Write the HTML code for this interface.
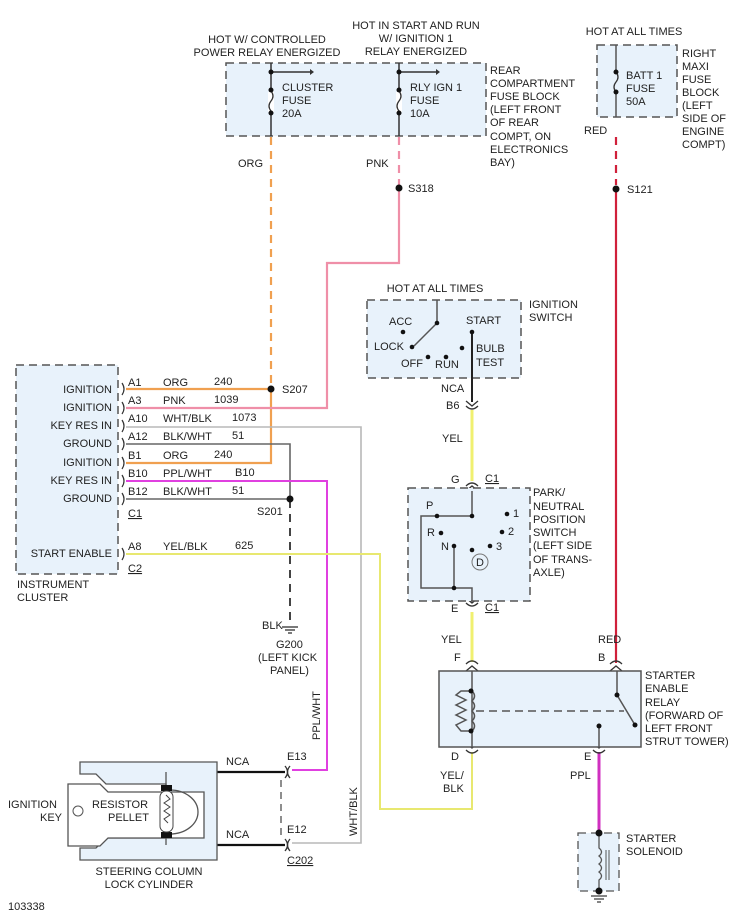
<!DOCTYPE html>
<html><head><meta charset="utf-8"><style>
body{margin:0;background:#fff}
svg{display:block}
text{font-family:"Liberation Sans",Arial,sans-serif;font-size:11px;fill:#222}
.bx{fill:#e8f2fb;stroke:#555;stroke-width:1.5;stroke-dasharray:8,5}
</style></head><body>
<svg width="742" height="916" viewBox="0 0 742 916" xmlns="http://www.w3.org/2000/svg">
<rect x="0" y="0" width="742" height="916" fill="#fff"/>
<text x="267" y="43" text-anchor="middle">HOT W/ CONTROLLED</text>
<text x="267" y="56" text-anchor="middle">POWER RELAY ENERGIZED</text>
<text x="416" y="29" text-anchor="middle">HOT IN START AND RUN</text>
<text x="416" y="42" text-anchor="middle">W/ IGNITION 1</text>
<text x="416" y="55" text-anchor="middle">RELAY ENERGIZED</text>
<rect class="bx" x="226" y="63" width="260" height="73"/>
<g stroke="#333" stroke-width="1.5" fill="none">
<line x1="271" y1="63" x2="271" y2="136"/><line x1="399" y1="63" x2="399" y2="136"/>
<line x1="271" y1="72" x2="310" y2="72"/><line x1="399" y1="72" x2="436" y2="72"/>
</g>
<path d="M310,69 L314,72 L310,75Z M436,69 L440,72 L436,75Z" fill="#333"/>
<g fill="#fff" stroke="none"><rect x="268" y="92" width="6" height="20"/><rect x="396" y="92" width="6" height="20"/></g>
<path d="M271,91 q4,5 0,10 q-4,5 0,10 M399,91 q4,5 0,10 q-4,5 0,10" stroke="#333" fill="none" stroke-width="1.3"/>
<g fill="#111"><circle cx="271" cy="72" r="2.5"/><circle cx="399" cy="72" r="2.5"/><circle cx="271" cy="90" r="2.5"/><circle cx="271" cy="113" r="2.5"/><circle cx="399" cy="90" r="2.5"/><circle cx="399" cy="113" r="2.5"/></g>
<text x="282" y="91">CLUSTER</text><text x="282" y="104">FUSE</text><text x="282" y="117">20A</text>
<text x="410" y="91">RLY IGN 1</text><text x="410" y="104">FUSE</text><text x="410" y="117">10A</text>
<text x="490" y="74">REAR</text><text x="490" y="87">COMPARTMENT</text><text x="490" y="100">FUSE BLOCK</text><text x="490" y="113">(LEFT FRONT</text><text x="490" y="126">OF REAR</text><text x="490" y="140">COMPT, ON</text><text x="490" y="153">ELECTRONICS</text><text x="490" y="166">BAY)</text>
<text x="238" y="167">ORG</text><text x="366" y="167">PNK</text><text x="408" y="192">S318</text>

<text x="634" y="35" text-anchor="middle">HOT AT ALL TIMES</text>
<rect class="bx" x="597" y="45" width="80" height="72"/>
<line x1="616" y1="45" x2="616" y2="117" stroke="#555" stroke-width="1.5"/>
<rect x="613" y="73" width="6" height="18" fill="#e8f2fb"/>
<path d="M616,72 q4,5 0,10 q-4,5 0,10" stroke="#333" fill="none" stroke-width="1.3"/>
<circle cx="616" cy="72" r="2.5" fill="#111"/><circle cx="616" cy="92" r="2.5" fill="#111"/>
<text x="626" y="79">BATT 1</text><text x="626" y="92">FUSE</text><text x="626" y="105">50A</text>
<text x="682" y="57">RIGHT</text><text x="682" y="70">MAXI</text><text x="682" y="83">FUSE</text><text x="682" y="96">BLOCK</text><text x="682" y="109">(LEFT</text><text x="682" y="122">SIDE OF</text><text x="682" y="135">ENGINE</text><text x="682" y="148">COMPT)</text>
<text x="584" y="134">RED</text><text x="627" y="193">S121</text>

<g fill="none" stroke-width="2.2">
<line x1="271" y1="137" x2="271" y2="386" stroke="#f0a050" stroke-dasharray="8,6"/>
<path d="M126,389 H271 V463 H126" stroke="#f0a050"/>
<line x1="399" y1="137" x2="399" y2="185" stroke="#ef8fa8" stroke-dasharray="8,6"/>
<path d="M399,188 V263 H327 V408 H126" stroke="#ef8fa8"/>
<path d="M126,427 H361 V843 H292" stroke="#b8b8b8" stroke-width="1.6"/>
<path d="M126,444 H290 V499 H126" stroke="#666" stroke-width="1.6"/>
<line x1="290" y1="500" x2="290" y2="626" stroke="#444" stroke-dasharray="8,6" stroke-width="2"/>
<path d="M126,481 H327 V770 H292" stroke="#e040e0" stroke-width="2"/>
<path d="M126,554 H380 V809 H472 V752" stroke="#e8e870" stroke-width="2"/>
<line x1="616" y1="137" x2="616" y2="185" stroke="#d0203a" stroke-dasharray="8,6"/>
<path d="M616,189 V663" stroke="#d0203a"/>
<line x1="472" y1="410" x2="472" y2="481" stroke="#f0f070" stroke-width="3"/>
<line x1="472" y1="612" x2="472" y2="662" stroke="#f0f070" stroke-width="3"/>
<line x1="599" y1="752" x2="599" y2="833" stroke="#d030c0" stroke-width="3"/>
<line x1="166" y1="772" x2="285" y2="772" stroke="#111" stroke-width="2.2"/>
<line x1="166" y1="845" x2="285" y2="845" stroke="#111" stroke-width="2.2"/>
<line x1="281" y1="780" x2="281" y2="838" stroke="#444" stroke-width="1.2" stroke-dasharray="7,5"/>
</g>
<g fill="#111"><circle cx="271" cy="389" r="3.5"/><circle cx="399" cy="188" r="3.5"/><circle cx="290" cy="499" r="3.5"/><circle cx="616" cy="189" r="3.5"/></g>
<text x="282" y="393">S207</text><text x="257" y="515">S201</text>

<rect class="bx" x="16" y="365" width="102" height="209"/>
<g text-anchor="end">
<text x="112" y="393">IGNITION</text><text x="112" y="411">IGNITION</text><text x="112" y="429">KEY RES IN</text><text x="112" y="447">GROUND</text><text x="112" y="466">IGNITION</text><text x="112" y="484">KEY RES IN</text><text x="112" y="502">GROUND</text><text x="112" y="557">START ENABLE</text>
</g>
<g fill="none" stroke="#333" stroke-width="1.2">
<path d="M122,383 q4,6 0,12"/><path d="M122,402 q4,6 0,12"/><path d="M122,420 q4,6 0,12"/><path d="M122,438 q4,6 0,12"/><path d="M122,457 q4,6 0,12"/><path d="M122,475 q4,6 0,12"/><path d="M122,493 q4,6 0,12"/><path d="M122,548 q4,6 0,12"/>
</g>
<text x="128" y="386">A1</text><text x="163" y="386">ORG</text><text x="214" y="385">240</text>
<text x="128" y="404">A3</text><text x="163" y="404">PNK</text><text x="214" y="403">1039</text>
<text x="128" y="422">A10</text><text x="163" y="422">WHT/BLK</text><text x="232" y="421">1073</text>
<text x="128" y="440">A12</text><text x="163" y="440">BLK/WHT</text><text x="232" y="439">51</text>
<text x="128" y="459">B1</text><text x="163" y="459">ORG</text><text x="214" y="458">240</text>
<text x="128" y="477">B10</text><text x="163" y="477">PPL/WHT</text><text x="235" y="476">B10</text>
<text x="128" y="495">B12</text><text x="163" y="495">BLK/WHT</text><text x="232" y="494">51</text>
<text x="128" y="517" text-decoration="underline">C1</text>
<text x="128" y="550">A8</text><text x="163" y="550">YEL/BLK</text><text x="235" y="549">625</text>
<text x="128" y="572" text-decoration="underline">C2</text>
<text x="17" y="588">INSTRUMENT</text><text x="17" y="601">CLUSTER</text>
<text x="262" y="629">BLK</text>
<g stroke="#333" stroke-width="1.3"><line x1="282" y1="627" x2="298" y2="627"/><line x1="285" y1="630" x2="295" y2="630"/><line x1="288" y1="633" x2="292" y2="633"/></g>
<text x="276" y="648">G200</text><text x="258" y="661">(LEFT KICK</text><text x="270" y="674">PANEL)</text>
<text transform="translate(320,740) rotate(-90)">PPL/WHT</text>
<text transform="translate(357,836) rotate(-90)">WHT/BLK</text>

<text x="435" y="292" text-anchor="middle">HOT AT ALL TIMES</text>
<rect class="bx" x="367" y="300" width="154" height="78"/>
<g stroke="#555" stroke-width="1.5" fill="none"><path d="M437,300 V323 L414,346"/></g>
<line x1="472" y1="332" x2="472" y2="402" stroke="#222" stroke-width="2"/>
<g fill="#111"><circle cx="437" cy="323" r="2.3"/><circle cx="403" cy="332" r="2.3"/><circle cx="412" cy="347" r="2.3"/><circle cx="428" cy="357" r="2.3"/><circle cx="446" cy="357" r="2.3"/><circle cx="462" cy="348" r="2.3"/><circle cx="472" cy="332" r="2.3"/></g>
<text x="389" y="325">ACC</text><text x="374" y="350">LOCK</text><text x="401" y="367">OFF</text><text x="435" y="368">RUN</text><text x="466" y="324">START</text><text x="476" y="352">BULB</text><text x="476" y="366">TEST</text>
<text x="529" y="308">IGNITION</text><text x="529" y="321">SWITCH</text>
<text x="441" y="392">NCA</text><text x="446" y="409">B6</text>
<g fill="none" stroke="#333" stroke-width="1.3">
<path d="M466,401 l6,5 l6,-5"/><path d="M466,406 q6,6 12,0"/>
<path d="M466,486 q6,-6 12,0"/><path d="M466,491 l6,-5 l6,5"/>
<path d="M466,598 l6,5 l6,-5"/><path d="M466,603 q6,6 12,0"/>
<path d="M466,664 q6,-6 12,0"/><path d="M466,671 l6,-5 l6,5"/>
<path d="M610,664 q6,-6 12,0"/><path d="M610,671 l6,-5 l6,5"/>
<path d="M466,743 l6,5 l6,-5"/><path d="M466,750 q6,6 12,0"/>
<path d="M593,743 l6,5 l6,-5"/><path d="M593,750 q6,6 12,0"/>
<path d="M285,766 q5,6 0,12"/><path d="M290,766 q-5,6 0,12"/>
<path d="M285,839 q5,6 0,12"/><path d="M290,839 q-5,6 0,12"/>
</g>
<text x="442" y="442">YEL</text>
<text x="451" y="483">G</text><text x="485" y="482" text-decoration="underline">C1</text>

<rect class="bx" x="408" y="488" width="122" height="113"/>
<g stroke="#555" stroke-width="1.5" fill="none">
<path d="M472,491 V516 H437"/><path d="M437,516 H421 V588 H472 V601"/><path d="M454,546 V588"/>
</g>
<circle cx="480" cy="562" r="8" fill="none" stroke="#777"/><text x="476" y="566">D</text>
<g fill="#111"><circle cx="472" cy="516" r="2.3"/><circle cx="437" cy="516" r="2.3"/><circle cx="441" cy="533" r="2.3"/><circle cx="454" cy="546" r="2.3"/><circle cx="472" cy="550" r="2.3"/><circle cx="490" cy="546" r="2.3"/><circle cx="502" cy="532" r="2.3"/><circle cx="507" cy="514" r="2.3"/><circle cx="454" cy="588" r="2.3"/></g>
<text x="426" y="509">P</text><text x="427" y="536">R</text><text x="441" y="550">N</text><text x="496" y="550">3</text><text x="508" y="535">2</text><text x="513" y="517">1</text>
<text x="533" y="496">PARK/</text><text x="533" y="510">NEUTRAL</text><text x="533" y="523">POSITION</text><text x="533" y="536">SWITCH</text><text x="533" y="549">(LEFT SIDE</text><text x="533" y="563">OF TRANS-</text><text x="533" y="576">AXLE)</text>
<text x="451" y="612">E</text><text x="485" y="611" text-decoration="underline">C1</text>
<text x="441" y="643">YEL</text><text x="454" y="661">F</text><text x="598" y="643">RED</text><text x="598" y="661">B</text>

<rect x="439" y="671" width="202" height="76" fill="#e8f2fb" stroke="#555" stroke-width="1.5"/>
<g stroke="#555" stroke-width="1.5" fill="none">
<path d="M472,671 V747"/><path d="M471,691 H461 L456,695 L466,700 L456,705 L466,710 L456,715 L466,720 L456,725 L461,731 H471"/>
<path d="M472,691 q5,5 0,10 q5,5 0,10 q5,5 0,10 q5,5 0,10"/>
<line x1="476" y1="711" x2="624" y2="711" stroke-dasharray="8,5"/>
<path d="M617,671 V695 L635,725"/><path d="M599,726 V747"/>
</g>
<g fill="#111"><circle cx="471" cy="691" r="2.5"/><circle cx="471" cy="731" r="2.5"/><circle cx="617" cy="695" r="2.5"/><circle cx="635" cy="725" r="2.5"/><circle cx="599" cy="726" r="2.5"/></g>
<text x="645" y="679">STARTER</text><text x="645" y="692">ENABLE</text><text x="645" y="706">RELAY</text><text x="645" y="719">(FORWARD OF</text><text x="645" y="732">LEFT FRONT</text><text x="645" y="745">STRUT TOWER)</text>
<text x="451" y="760">D</text><text x="584" y="760">E</text>
<text x="440" y="779">YEL/</text><text x="443" y="792">BLK</text><text x="570" y="779">PPL</text>

<rect x="578" y="833" width="41" height="58" fill="#e8f2fb" stroke="#555" stroke-width="1.3" stroke-dasharray="8,5"/>
<path d="M599,833 V848 q5,4 0,8 q5,4 0,8 q5,4 0,8 q5,4 0,8 V891" stroke="#555" fill="none" stroke-width="1.3"/>
<g stroke="#555" stroke-width="1"><line x1="606" y1="850" x2="606" y2="880"/><line x1="609" y1="850" x2="609" y2="880"/></g>
<circle cx="599" cy="833" r="3.5" fill="#111"/><circle cx="599" cy="891" r="3.5" fill="#111"/>
<g stroke="#333" stroke-width="1.2"><line x1="591" y1="896" x2="607" y2="896"/><line x1="594" y1="899" x2="604" y2="899"/><line x1="597" y1="902" x2="601" y2="902"/></g>
<text x="626" y="842">STARTER</text><text x="626" y="855">SOLENOID</text>

<path d="M80,762 H217 V860 H80 V848 H96 L106,838 H166 V784 H106 L96,774 H80Z" fill="#e8f2fb" stroke="#555" stroke-width="1.3"/>
<path d="M68,784 H100 L108,792 H204 V838 H108 L100,846 H68Z" fill="#fff" stroke="#555" stroke-width="1.3"/>
<path d="M166,772 V845" stroke="#555" fill="none" stroke-width="1.3"/>
<path d="M170,790 a28,22 0 0 1 0,44" stroke="#555" fill="none" stroke-width="1.3"/>
<rect x="161" y="785" width="11" height="6" fill="#111"/><rect x="161" y="832" width="11" height="6" fill="#111"/>
<rect x="160" y="791" width="13" height="41" rx="6" fill="#fff" stroke="#444"/>
<path d="M166,795 l4,4 l-6,4 l6,4 l-6,4 l6,4 l-6,4 l4,4" stroke="#444" fill="none"/>
<circle cx="78" cy="811" r="5" fill="#fff" stroke="#555"/>
<text x="8" y="808">IGNITION</text><text x="40" y="821">KEY</text>
<text x="92" y="808">RESISTOR</text><text x="108" y="821">PELLET</text>
<text x="226" y="765">NCA</text><text x="226" y="838">NCA</text>
<text x="287" y="760">E13</text><text x="287" y="833">E12</text>
<text x="287" y="864" text-decoration="underline">C202</text>
<text x="149" y="875" text-anchor="middle">STEERING COLUMN</text><text x="149" y="888" text-anchor="middle">LOCK CYLINDER</text>
<text x="8" y="910">103338</text>
</svg>
</body></html>
